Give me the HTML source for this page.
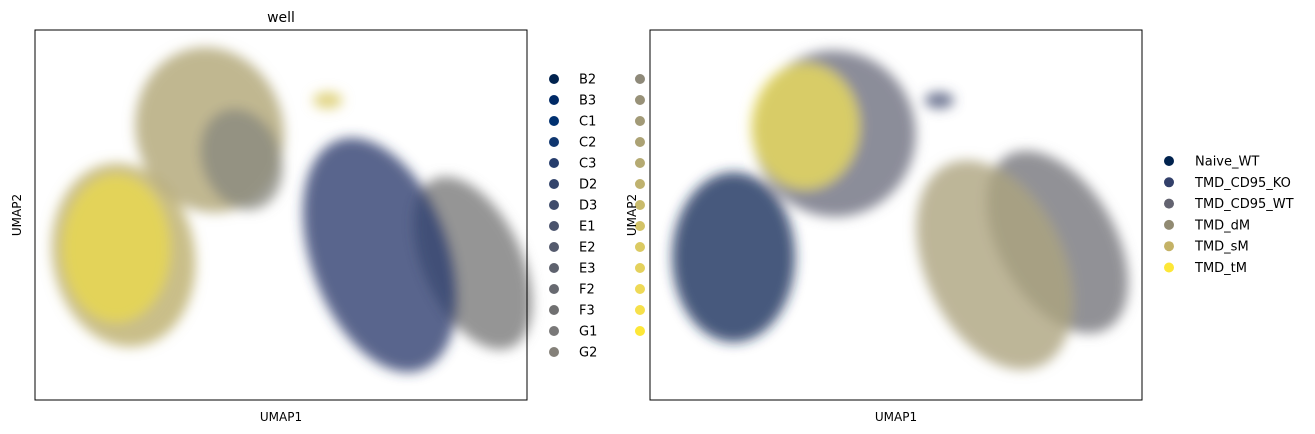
<!DOCTYPE html>
<html><head><meta charset="utf-8">
<style>
html,body{margin:0;padding:0;background:#fff;}
svg{display:block;font-family:"DejaVu Sans","Liberation Sans",sans-serif;}
</style></head>
<body>
<svg id="chart" width="1315" height="434" viewBox="0 0 1315 434">
<defs>
<filter id="soft" x="-30%" y="-30%" width="160%" height="160%"><feGaussianBlur stdDeviation="6"/></filter>
</defs>
<g id="left"></g>
<g id="leftLegend"></g>
<g id="right"></g>
<g id="rightLegend"></g>
</svg>
<script>
// ---- data: cluster density regions in UMAP units (0-100) ----
const leftClusterNames = ["tan-base","yellow-core","upper-mix","upper-gray","small-spur","gray-strip","blue-core"];
const leftCx  = [18.0, 16.5, 35.5, 42.0, 59.5, 89.0, 70.1];
const leftCy  = [39.2, 41.0, 73.0, 65.0, 81.0, 37.0, 39.2];
const leftRx  = [14.5, 11.0, 15.0, 8.0, 3.0, 10.0, 14.0];
const leftRy  = [25.0, 20.0, 22.5, 14.0, 2.2, 25.0, 33.0];
const leftRot = [-10, 0, -15, -20, 0, -25, -20];
const leftColors = ["#bcae6c","#ead84e","#b0a574","#8a8a80","#d8c860","#7a7a7a","#2e4070"];

const rightClusterNames = ["navy-core","upper-mix","upper-yellow","small-spur","gray-strip","tan-core"];
const rightCx  = [17.0, 37.5, 31.5, 58.8, 82.8, 70.0];
const rightCy  = [38.6, 72.0, 74.0, 81.0, 42.7, 36.5];
const rightRx  = [12.5, 16.5, 11.0, 3.0, 11.8, 14.0];
const rightRy  = [23.0, 22.5, 17.0, 2.2, 27.0, 30.0];
const rightRot = [0, -10, 0, 0, -30, -25];
const rightColors = ["#1a2f5c","#6e7080","#ecdc5a","#4a5478","#76767c","#aca47e"];

const wellLabels = ["B2","B3","C1","C2","C3","D2","D3","E1","E2","E3","F2","F3","G1","G2",
  "G3","H1","H2","H3","I1","I2","I3","J1","J2","J3","K1","K2","K3"];
const wellColors = ["#00224e","#002a66","#003070","#0f366f","#263d6c","#33446b","#3f4b6b","#4a536c",
  "#545a6d","#5e626e","#676970","#707071","#797878","#848079","#8e8979","#989178","#a29a77","#aca274",
  "#b5aa72","#bfb26f","#c9bb6c","#d3c367","#dbca62","#e4d15c","#eed956","#f6e04a","#fde737"];
const condLabels = ["Naive_WT","TMD_CD95_KO","TMD_CD95_WT","TMD_dM","TMD_sM","TMD_tM"];
const condColors = ["#00224e","#33406a","#636370","#918a72","#c4b266","#fde737"];

const NS="http://www.w3.org/2000/svg";
function mk(tag, attrs, parent){const e=document.createElementNS(NS,tag);for(const k in attrs)e.setAttribute(k,attrs[k]);parent.appendChild(e);return e;}

function panel(g, x0, title, cx, cy, rx, ry, rot, colors, names){
  const y0=30,w=492,h=370;
  const sx=v=>x0+v/100*w, sy=v=>y0+h-v/100*h;
  const bg=mk("rect",{x:x0,y:y0,width:w,height:h,fill:"#fff"},g);
  
  
  const pts=mk("g",{filter:"url(#soft)"},g);
  for(let i=0;i<cx.length;i++){
    const px=sx(cx[i]),py=sy(cy[i]);
    const e=mk("ellipse",{cx:px,cy:py,rx:rx[i]/100*w,ry:ry[i]/100*h,fill:colors[i],"fill-opacity":0.8,
      transform:`rotate(${rot[i]} ${px} ${py})`},pts);
    
    
  }
  const fr=mk("rect",{x:x0,y:y0,width:w,height:h,fill:"none",stroke:"#000","stroke-width":1},g);
  
  
  const xl=mk("text",{x:x0+w/2,y:421,"font-size":12,"text-anchor":"middle"},g);xl.textContent="UMAP1";
  
  
  const yl=mk("text",{x:0,y:0,"font-size":12,"text-anchor":"middle",transform:`translate(${x0-14},${y0+h/2}) rotate(-90)`},g);yl.textContent="UMAP2";
  
  
  if(title){const t=mk("text",{x:x0+w/2,y:22,"font-size":14,"text-anchor":"middle"},g);t.textContent=title;
    
    }
}

const LL=document.getElementById("leftLegend");
wellLabels.forEach((lab,i)=>{
  const col=i<14?0:1,row=i<14?i:i-14;
  const mx=col?640:554,my=79+row*21;
  const c=mk("circle",{cx:mx,cy:my,r:5,fill:wellColors[i]},LL);
  
  
  const t=mk("text",{x:mx+25,y:my+4.5,"font-size":13},LL);t.textContent=lab;
  
  
});
panel(document.getElementById("left"),35,"well",leftCx,leftCy,leftRx,leftRy,leftRot,leftColors,leftClusterNames);
panel(document.getElementById("right"),650,"",rightCx,rightCy,rightRx,rightRy,rightRot,rightColors,rightClusterNames);
const RL=document.getElementById("rightLegend");
condLabels.forEach((lab,i)=>{
  const my=161+i*21.3;
  const c=mk("circle",{cx:1169,cy:my,r:5,fill:condColors[i]},RL);
  
  
  const t=mk("text",{x:1195,y:my+4.5,"font-size":13},RL);t.textContent=lab;
  
  
});
document.getElementById("chart").appendChild(RL);
</script>
</body></html>
